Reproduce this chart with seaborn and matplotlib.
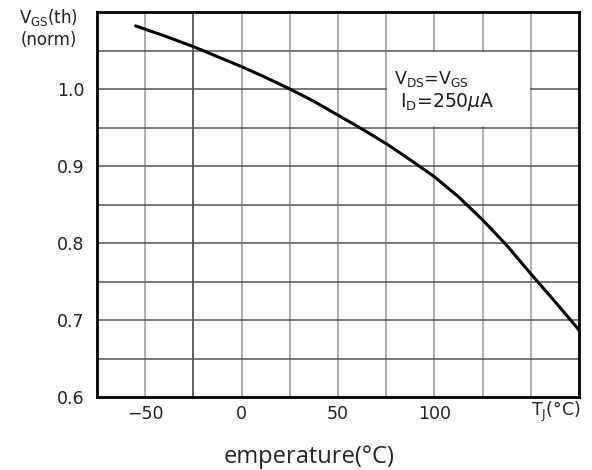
import numpy as np
import pandas as pd
import matplotlib
matplotlib.use("Agg")
import matplotlib.pyplot as plt
import seaborn as sns
from matplotlib.patches import Rectangle

# values
temp = [-55, -40, -25, -12.5, 0, 12.5, 25, 37.5, 50, 62.5, 75, 87.5, 100, 112.5, 125, 137.5, 150, 162.5, 175]
vgs_norm = [1.082, 1.069, 1.055, 1.042, 1.029, 1.015, 1.000, 0.984, 0.966, 0.948, 0.929, 0.908, 0.886, 0.860, 0.830, 0.797, 0.760, 0.724, 0.687]

x_labels = {-50: "\u221250", 0: "0", 50: "50", 100: "100"}
y_labels = {0.6: "0.6", 0.7: "0.7", 0.8: "0.8", 0.9: "0.9", 1.0: "1.0"}

df = pd.DataFrame({"T": temp, "V": vgs_norm})

sns.set_style("white")
plt.rcParams["font.family"] = ["DejaVu Sans"]

fig = plt.figure(figsize=(5.92, 4.70), dpi=100)
ax = fig.add_axes([97/592, 73/470, 482/592, 385/470])

sns.lineplot(data=df, x="T", y="V", color="black", lw=2.2, ax=ax, zorder=5)

ax.set_xlim(-75, 175)
ax.set_ylim(0.6, 1.1)

xt = np.arange(-75, 176, 25)
ax.set_xticks(xt)
ax.set_xticklabels([x_labels.get(int(v), "") for v in xt], fontsize=12.5, color="#222222")
yt = np.round(np.arange(0.6, 1.101, 0.05), 2)
ax.set_yticks(yt)
ax.set_yticklabels([y_labels.get(round(v, 2), "") for v in yt], fontsize=12.5, color="#222222")
ax.tick_params(axis="y", length=0, pad=9)
ax.tick_params(axis="x", length=0, pad=6)

for v in xt[1:-1]:
    c = "#333333" if v == -25 else "#999999"
    ax.axvline(v, color=c, lw=1.1, zorder=1)
for v in yt[1:-1]:
    ax.axhline(v, color="#555555", lw=1.1, zorder=1)

for s in ax.spines.values():
    s.set_color("black")
    s.set_linewidth(2)

ax.add_patch(Rectangle((75.6, 0.9515), 74, 0.097, facecolor="white", edgecolor="none", zorder=3))
ax.text(79, 1.013, r"V$_{\rm DS}$=V$_{\rm GS}$", fontsize=12.5, zorder=4, va="center", color="#222222")
ax.text(82, 0.983, r"I$_{\rm D}$=250$\mu$A", fontsize=13.5, zorder=4, va="center", color="#222222")

ax.set_xlabel("")
ax.set_ylabel("")
fig.text(49/592, 1 - 18/470, r"V$_{\rm GS}$(th)", fontsize=12, ha="center", va="center", color="#222222")
fig.text(49/592, 1 - 40/470, "(norm)", fontsize=12, ha="center", va="center", color="#222222")
fig.text(556/592, 1 - 412/470, r"T$_{\rm J}$(°C)", fontsize=12.5, ha="center", va="center", color="#222222")
fig.text(309/592, 1 - 457/470, "emperature(°C)", fontsize=17, ha="center", va="center",
         family=["Open Sans", "DejaVu Sans"])

fig.savefig("out.png", dpi=100)
